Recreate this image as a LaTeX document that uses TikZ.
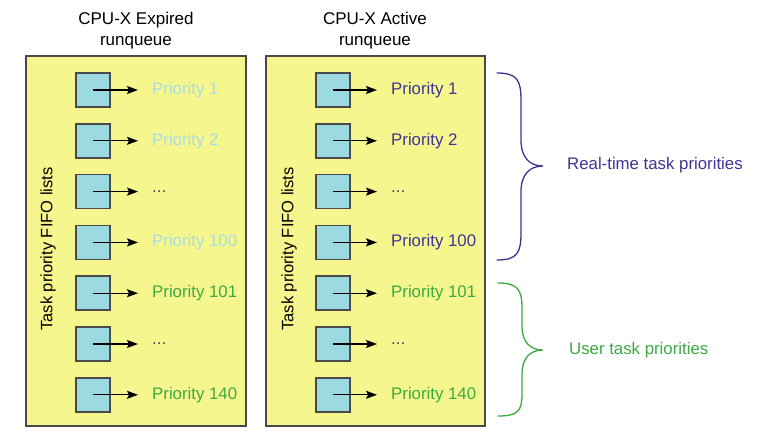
\documentclass[tikz,border=0pt]{standalone}
\usepackage{fontspec}
\setmainfont{Liberation Sans}
\usetikzlibrary{arrows.meta}
\definecolor{qyellow}{HTML}{F6F68E}
\definecolor{qcyan}{HTML}{9CDAE2}
\definecolor{qpale}{HTML}{A9DDE6}
\definecolor{qindigo}{HTML}{3F3594}
\definecolor{qgreen}{HTML}{3DAA42}
\definecolor{qedge}{HTML}{4A4A4A}
\tikzset{
  panel/.style={draw=qedge,line width=1.4pt,fill=qyellow},
  qbox/.style={draw=qedge,line width=1.5pt,fill=qcyan,minimum size=34pt,inner sep=0pt},
  qlabel/.style={anchor=west,inner sep=0pt,font=\fontsize{16.8}{19}\selectfont},
  qarrow/.style={-{Stealth[length=11pt,width=8pt,inset=2pt]},line width=1.3pt},
  brace/.style={line width=1.3pt,line cap=round}
}
\begin{document}
\begin{tikzpicture}[x=1pt,y=-1pt]
   \useasboundingbox[fill=white] (0,0) rectangle (763,440);
   % the two runqueues
   \draw[panel] (26,56) rectangle (246,426);
   \draw[panel] (266,56) rectangle (485,426);
   \node[align=center,font=\fontsize{17}{21}\selectfont] (exphead) at (136,31) {CPU-X Expired\\runqueue};
   \node[align=center,font=\fontsize{17}{21}\selectfont] (acthead) at (375,31) {CPU-X Active\\runqueue};
   \node[rotate=90,font=\fontsize{16.5}{18}\selectfont] (expfifo) at (48,249) {Task priority FIFO lists};
   \node[rotate=90,font=\fontsize{16.5}{18}\selectfont] (actfifo) at (289,249) {Task priority FIFO lists};
   % priority lists
   \foreach \i/\l/\c/\d in
     {1/{Priority 1}/qpale/qindigo,
      2/{Priority 2}/qpale/qindigo,
      3/{...}/black!70/black!70,
      4/{Priority 100}/qpale/qindigo,
      5/{Priority 101}/qgreen/qgreen,
      6/{...}/black!70/black!70,
      7/{Priority 140}/qgreen/qgreen}
   {
     \node[qbox] (e\i) at (93,{90+50.8*(\i-1)}) {};
     \node[qlabel,text=\c] (el\i) at (152,{90+50.8*(\i-1)}) {\l};
     \draw[qarrow] (e\i.center) -- ([xshift=-14pt]el\i.west);
     \node[qbox] (a\i) at (333,{90+50.8*(\i-1)}) {};
     \node[qlabel,text=\d] (al\i) at (391,{90+50.8*(\i-1)}) {\l};
     \draw[qarrow] (a\i.center) -- ([xshift=-14pt]al\i.west);
   }
   % braces
   \draw[brace,qindigo] (497,73) .. controls (517,73) and (521,80) .. (521,100) -- (521,140)
     .. controls (521,158) and (530,166) .. (543,166) .. controls (530,166) and (521,174) .. (521,192)
     -- (521,233) .. controls (521,253) and (517,260) .. (497,260);
   \draw[brace,qgreen] (498,283) .. controls (518,283) and (522,290) .. (522,308) -- (522,326)
     .. controls (522,343) and (531,350) .. (543,350) .. controls (531,350) and (522,357) .. (522,374)
     -- (522,394) .. controls (522,411) and (518,416) .. (498,416);
   \node[qlabel,text=qindigo] (rtprio) at (567,165) {Real-time task priorities};
   \node[qlabel,text=qgreen] (userprio) at (569,350) {User task priorities};
\end{tikzpicture}
\end{document}
